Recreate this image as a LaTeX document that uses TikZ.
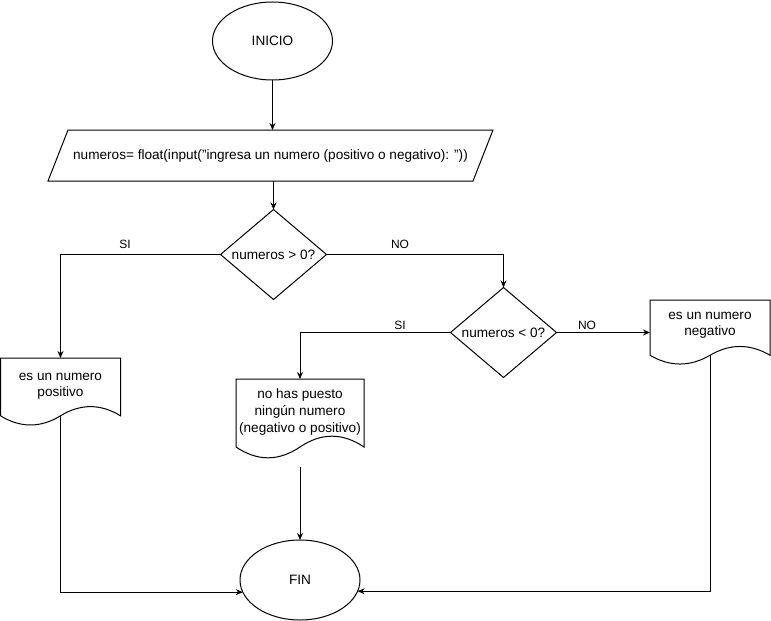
\documentclass[tikz,border=0pt]{standalone}
\usepackage{fontspec}
\setmainfont{Liberation Sans}
\usetikzlibrary{shapes.geometric,arrows.meta,calc}

% outline of a document box: node name, width, height
\newcommand{\docoutline}[3]{%
  \draw (#1.north west) -- (#1.north east)
    -- ($(#1.north west)+(#2,0.85*#3)$)
    .. controls ($(#1.north west)+(0.8333*#2,0.67*#3)$) and ($(#1.north west)+(0.6667*#2,0.67*#3)$)
    .. ($(#1.north west)+(0.5*#2,0.85*#3)$)
    .. controls ($(#1.north west)+(0.3333*#2,1.03*#3)$) and ($(#1.north west)+(0.1667*#2,1.03*#3)$)
    .. ($(#1.north west)+(0,0.85*#3)$) -- cycle;}

\begin{document}
\begin{tikzpicture}[x=1pt,y=-1pt,line width=1pt,
  font=\fontsize{13.6}{16}\selectfont,
  terminal/.style={ellipse,draw,minimum width=120pt,minimum height=78pt,inner sep=0pt,outer sep=0pt},
  decision/.style={diamond,draw,aspect=1.17,minimum width=106pt,minimum height=90pt,inner sep=0pt,outer sep=0pt},
  doctext/.style={anchor=north,align=center,inner sep=0pt,outer sep=0pt,minimum width=120pt},
  flow/.style={-{Stealth[length=7pt,width=6pt]}},
  lbl/.style={font=\fontsize{12}{14}\selectfont}]
\useasboundingbox (0,0) rectangle (771,621);

% start and input
\node[terminal] (ini) at (272.5,41) {INICIO};
\node[inner sep=0pt,outer sep=0pt,minimum width=425pt,minimum height=51pt] (inp) at (270.5,155.5)
  {numeros= float(input("ingresa un numero (positivo o negativo): "))};
\draw ($(inp.north west)+(10,0)$) -- ($(inp.north east)+(10,0)$)
  -- ($(inp.south east)+(-10,0)$) -- ($(inp.south west)+(-10,0)$) -- cycle;

% decisions
\node[decision] (d1) at (273.5,254.5) {numeros > 0?};
\node[decision] (d2) at (503.5,332.5) {numeros < 0?};

% outputs
\node[doctext,minimum height=56pt] (pos) at (60.5,358) {es un numero\\positivo};
\docoutline{pos}{120}{68}
\coordinate (posOut) at ($(pos.north)+(0,57.8)$);

\node[doctext,minimum width=128pt,minimum height=66pt,font=\fontsize{13.6}{17}\selectfont] (nh) at (300,379)
  {no has puesto\\ningún numero\\(negativo o positivo)};
\docoutline{nh}{128}{80}
\coordinate (nhOut) at ($(nh.north)+(0,88)$);

\node[doctext,minimum height=50pt] (neg) at (710,300) {es un numero\\negativo};
\docoutline{neg}{120}{65}
\coordinate (negOut) at ($(neg.north)+(0,55.25)$);

\node[terminal,minimum height=80pt] (fin) at (300,580) {FIN};

% connectors
\draw[flow] (ini.south) -- (ini.south |- inp.north);
\draw[flow] (d1.north |- inp.south) -- (d1.north);
\draw[flow] (d1.west) -| (pos.north);
\draw[flow] (d1.east) -| (d2.north);
\draw[flow] (d2.west) -| (nh.north);
\draw[flow] (d2.east) -- (d2.east -| neg.west);
\draw[flow] (posOut) |- (fin.192);
\draw[flow] (nhOut) -- (fin.north);
\draw[flow] (negOut) |- (fin.-11);

% branch labels
\node[lbl] (si1) at (125,244) {SI};
\node[lbl] (no1) at (400,244) {NO};
\node[lbl] (si2) at (400,325) {SI};
\node[lbl] (no2) at (587,325) {NO};
\end{tikzpicture}
\end{document}
